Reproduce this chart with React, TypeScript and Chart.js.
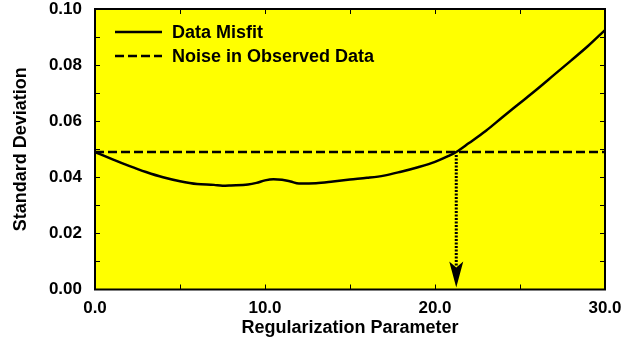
import React, { useEffect, useRef } from "react";
import { Chart, registerables } from "chart.js";

Chart.register(...registerables);

// Regularization parameter values and the resulting data-misfit standard deviation
const regParam = [
  0, 1, 2, 3, 4, 5, 6, 7, 7.5, 8, 9, 9.5, 10, 10.5, 11, 11.5, 12, 13, 14, 15,
  16, 17, 18, 19, 20, 20.8, 21.25, 22, 23, 24, 25, 26, 27, 28, 29, 30,
];
const misfit = [
  0.049, 0.0465, 0.0441, 0.0419, 0.0400, 0.0386, 0.0376, 0.0373, 0.0370, 0.0371,
  0.0374, 0.0380, 0.0389, 0.0393, 0.0391, 0.0385, 0.0378, 0.0379, 0.0385, 0.0392,
  0.0398, 0.0406, 0.0420, 0.0436, 0.0455, 0.0476, 0.0490, 0.0522, 0.0566, 0.0616,
  0.0665, 0.0714, 0.0765, 0.0816, 0.0868, 0.0925,
];

// Noise level of the observed data (constant reference line)
const noiseLevel = 0.049;
const noiseRange = [0, 30];

// Parameter where the misfit reaches the noise level
const chosenParam = 21.25;

const seriesLabels = ["Data Misfit", "Noise in Observed Data"];
const xTitle = "Regularization Parameter";
const yTitle = "Standard Deviation";

const FONT = "'Liberation Sans', Arial, Helvetica, sans-serif";

const framePlugin = {
  id: "frame",
  beforeDraw(chart: any) {
    const { ctx, chartArea: a } = chart;
    ctx.save();
    ctx.fillStyle = "#ffff00";
    ctx.fillRect(a.left, a.top, a.right - a.left, a.bottom - a.top);
    ctx.restore();
  },
  afterDraw(chart: any) {
    const { ctx, chartArea: a, scales } = chart;
    const xs = scales.x;
    const ys = scales.y;
    ctx.save();

    // inward tick marks on all four sides
    ctx.strokeStyle = "#000";
    ctx.lineWidth = 1;
    const tl = 5;
    for (let v = 5; v < 30; v += 5) {
      const px = Math.round(xs.getPixelForValue(v)) + 0.5;
      ctx.beginPath();
      ctx.moveTo(px, a.bottom);
      ctx.lineTo(px, a.bottom - tl);
      ctx.moveTo(px, a.top);
      ctx.lineTo(px, a.top + tl);
      ctx.stroke();
    }
    for (let i = 1; i < 10; i++) {
      const py = Math.round(ys.getPixelForValue(i / 100)) + 0.5;
      ctx.beginPath();
      ctx.moveTo(a.left, py);
      ctx.lineTo(a.left + tl, py);
      ctx.moveTo(a.right, py);
      ctx.lineTo(a.right - tl, py);
      ctx.stroke();
    }

    // dotted arrow from the crossing point down to the axis
    const ax = xs.getPixelForValue(chosenParam);
    const yStart = ys.getPixelForValue(noiseLevel);
    const yTip = ys.getPixelForValue(0) - 2;
    const headLen = 26;
    ctx.setLineDash([2, 1.5]);
    ctx.lineWidth = 3;
    ctx.beginPath();
    ctx.moveTo(ax, yStart + 3);
    ctx.lineTo(ax, yTip - headLen + 4);
    ctx.stroke();
    ctx.setLineDash([]);
    ctx.fillStyle = "#000";
    ctx.beginPath();
    ctx.moveTo(ax, yTip);
    ctx.lineTo(ax - 7, yTip - headLen);
    ctx.lineTo(ax, yTip - headLen + 6);
    ctx.lineTo(ax + 7, yTip - headLen);
    ctx.closePath();
    ctx.fill();

    // frame
    ctx.lineWidth = 2;
    ctx.strokeStyle = "#000";
    ctx.strokeRect(a.left, a.top, a.right - a.left, a.bottom - a.top);

    // legend inside the plot area
    ctx.font = `bold 18px ${FONT}`;
    ctx.textBaseline = "middle";
    ctx.fillStyle = "#000";
    const lx0 = a.left + 20;
    const lx1 = lx0 + 47;
    const rows = [a.top + 23, a.top + 47];
    chart.data.datasets.forEach((ds: any, i: number) => {
      ctx.lineWidth = 2.5;
      ctx.setLineDash(ds.borderDash || []);
      ctx.beginPath();
      ctx.moveTo(lx0, rows[i]);
      ctx.lineTo(lx1, rows[i]);
      ctx.stroke();
      ctx.setLineDash([]);
      ctx.fillText(ds.label, lx1 + 10, rows[i] + 1);
    });
    ctx.restore();
  },
};

export default function App() {
  const ref = useRef<HTMLCanvasElement | null>(null);

  useEffect(() => {
    if (!ref.current) return;
    const chart = new Chart(ref.current, {
      type: "line",
      data: {
        datasets: [
          {
            label: seriesLabels[0],
            data: regParam.map((x, i) => ({ x, y: misfit[i] })),
            borderColor: "#000",
            borderWidth: 2.5,
            pointRadius: 0,
            cubicInterpolationMode: "monotone",
            fill: false,
          },
          {
            label: seriesLabels[1],
            data: noiseRange.map((x) => ({ x, y: noiseLevel })),
            borderColor: "#000",
            borderWidth: 2.5,
            borderDash: [9, 4],
            pointRadius: 0,
            fill: false,
          },
        ],
      },
      options: {
        responsive: false,
        animation: false,
        layout: { padding: { top: 9, right: 34, bottom: 0, left: 0 } },
        plugins: { legend: { display: false }, tooltip: { enabled: false } },
        scales: {
          x: {
            type: "linear",
            min: 0,
            max: 30,
            grid: { display: false, drawTicks: false },
            border: { display: false },
            ticks: {
              stepSize: 10,
              padding: 9,
              color: "#000",
              font: { family: FONT, size: 17, weight: "bold" },
              callback: (v: any) => Number(v).toFixed(1),
            },
            title: {
              display: true,
              text: xTitle,
              color: "#000",
              font: { family: FONT, size: 18, weight: "bold" },
              padding: { top: 0, bottom: 9 },
            },
            afterFit: (s: any) => {
              s.height = 58.5;
              s.paddingLeft = 0;
              s.paddingRight = 0;
            },
          },
          y: {
            type: "linear",
            min: 0,
            max: 0.1,
            grid: { display: false, drawTicks: false },
            border: { display: false },
            ticks: {
              stepSize: 0.02,
              padding: 13,
              color: "#000",
              font: { family: FONT, size: 17, weight: "bold" },
              callback: (v: any) => Number(v).toFixed(2),
            },
            title: {
              display: true,
              text: yTitle,
              color: "#000",
              font: { family: FONT, size: 18, weight: "bold" },
              padding: { top: 10, bottom: 0 },
            },
            afterFit: (s: any) => {
              s.width = 95;
              s.paddingTop = 0;
              s.paddingBottom = 0;
            },
          },
        },
      },
      plugins: [framePlugin],
    });
    return () => chart.destroy();
  }, []);

  return (
    <div style={{ position: "fixed", left: 0, top: 0, width: 639, height: 348, background: "#fff" }}>
      <canvas ref={ref} width={639} height={348} style={{ display: "block" }} />
    </div>
  );
}
